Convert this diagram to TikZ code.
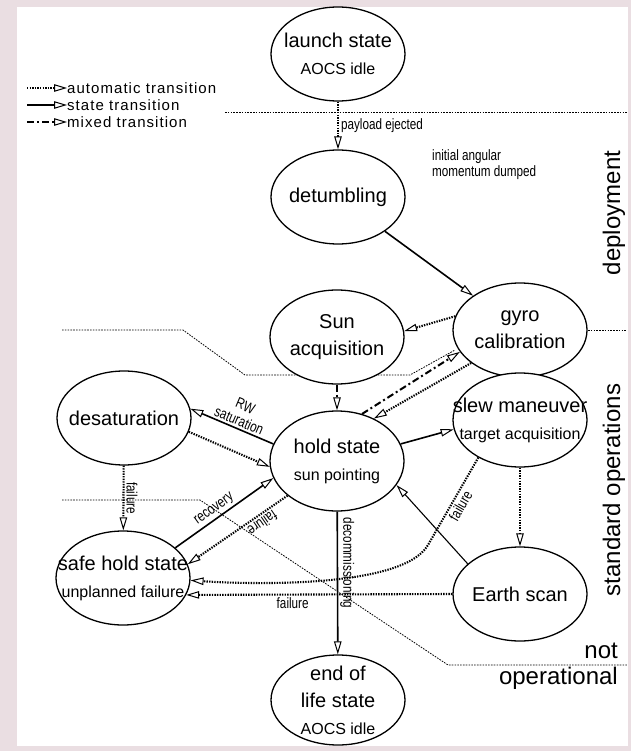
\documentclass[tikz,border=0pt]{standalone}
\usepackage{fontspec}
\setmainfont{Liberation Sans}
\newfontfamily\legfont[LetterSpace=7]{Liberation Sans}
\newfontfamily\narrowfont[FakeStretch=0.78]{Liberation Sans}
\usetikzlibrary{shapes.geometric,arrows.meta}
\definecolor{bgpink}{RGB}{234,222,226}
\newcommand{\subtxt}[1]{{\fontsize{16}{18}\selectfont #1}}

\begin{document}
\begin{tikzpicture}
[x=1pt,y=-1pt,
 state/.style={shape=ellipse,draw,line width=1.3pt,fill=white,inner sep=0pt,
   minimum width=134pt,minimum height=94pt,label={[statetxt]center:#1}},
 statetxt/.style={align=center,inner sep=0pt,font=\fontsize{20}{27}\selectfont},
 opentip/.style={-{Triangle[open,length=13pt,width=7.5pt,line width=1pt]}},
 autotr/.style={opentip,line width=2.1pt,dash pattern=on 1.4pt off 1.2pt},
 statetr/.style={opentip,line width=1.6pt},
 mixedtr/.style={opentip,line width=2pt,dash pattern=on 7pt off 3pt on 2pt off 3pt},
 divline/.style={line width=0.8pt,dash pattern=on 1.6pt off 1.2pt},
 lbl/.style={font=\narrowfont\fontsize{15}{16}\selectfont,inner sep=2pt},
 legtxt/.style={font=\legfont\fontsize{15}{17}\selectfont,anchor=west,inner sep=0pt},
 sidetxt/.style={font=\fontsize{24}{26}\selectfont,inner sep=0pt}]
%% background
\useasboundingbox (0,0) rectangle (631,751);
\fill[bgpink] (0,0) rectangle (631,751);
\fill[white] (17,7) rectangle (628,746);
%% phase dividers
\draw[divline] (225,112) -- (627,112);
\draw[divline] (62,330) -- (183,330) -- (245,375) -- (410,375) -- (455,350);
\draw[divline] (588,330) -- (627,330);
\draw[divline] (62,500) -- (200,500) -- (448,665) -- (627,665);
%% legend
\foreach \nm/\sty/\y/\txt in {lgauto/autotr/88/automatic transition,
  lgstate/statetr/105/state transition, lgmixed/mixedtr/122/mixed transition}
{
  \node[legtxt] (\nm) at (67,\y) {\txt};
  \coordinate (\nm s) at (27,\y);
  \draw[\sty] (\nm s) -- (\nm.west);
}
%% states
\node[state={launch state\\\subtxt{AOCS idle}}] (launch) at (338,54) {};
\node[state={detumbling}] (detumb) at (338,197) {};
\node[state={gyro\\calibration}] (gyro) at (520,330) {};
\node[state={Sun\\acquisition}] (sunacq) at (337,337) {};
\node[state={desaturation}] (desat) at (124,418) {};
\node[state={hold state\\\subtxt{sun pointing}},minimum height=100pt] (hold) at (337,461) {};
\node[state={slew maneuver\\\subtxt{target acquisition}}] (slew) at (520,420) {};
\node[state={safe hold state\\\subtxt{unplanned failure}}] (safe) at (123,578) {};
\node[state={Earth scan}] (earth) at (520,594) {};
\node[state={end of\\life state\\\subtxt{AOCS idle}},minimum height=90pt] (eol) at (338,700) {};
%% phase names
\node[sidetxt,rotate=90] (deploy) at (614,213) {deployment};
\node[sidetxt,rotate=90] (stdops) at (614,490) {standard operations};
\node[sidetxt,align=right,anchor=east] (notop) at (618,666) {not\\operational};
%% transitions
\draw[autotr] (launch) -- node[lbl,right] {payload ejected} (detumb);
\draw[statetr] (detumb) -- (gyro);
\node[lbl,anchor=west,align=left] (momlbl) at (430,165) {initial angular\\momentum dumped};
\draw[autotr] (gyro.168) -- (sunacq.5);
\draw[mixedtr] (sunacq) -- (hold);
\draw[mixedtr] (hold.62) -- (gyro.200);
\draw[autotr] (gyro.214) -- (hold.49);
\draw[statetr] (hold.165) -- node[lbl,sloped,above,align=center,pos=0.45] {RW\\saturation} (desat.8);
\draw[autotr] (desat.-12) -- (hold.185);
\draw[autotr] (desat) -- node[lbl,rotate=-90,anchor=south] {failure} (safe);
\draw[statetr] (safe.30) -- node[lbl,sloped,above,pos=0.45] {recovery} (hold.195);
\draw[autotr] (hold.215) -- node[lbl,sloped,allow upside down,above,pos=0.3] {failure} (safe.12);
\draw[statetr] (hold.15) -- (slew.188);
\draw[autotr] (slew) -- (earth);
\coordinate (slewbend) at (428,545);
\draw[autotr] (slew.222) -- node[lbl,sloped,below] {failure} (slewbend)
  to[out=240,in=-4,looseness=0.55] (safe.-2);
\draw[statetr,line width=1.1pt] (earth.150) -- (hold.-22);
\draw[autotr] (earth.west) -- node[lbl,below,pos=0.6] {failure} (safe.-15);
\draw[statetr] (hold) -- node[lbl,rotate=-90,anchor=south,pos=0.36] {decommissioning} (eol);
\end{tikzpicture}
\end{document}
